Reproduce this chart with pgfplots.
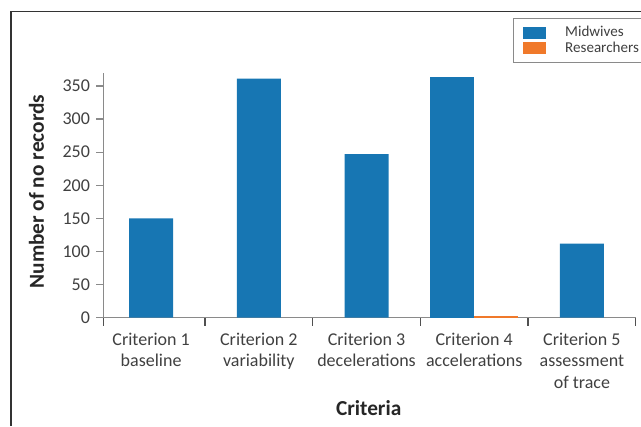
\documentclass[border=0pt]{standalone}
\usepackage{fontspec}
\setmainfont{Carlito}
\usepackage{pgfplots}
\pgfplotsset{compat=1.18}
\definecolor{mblue}{HTML}{1776B3}
\definecolor{rorange}{HTML}{F0792A}
\definecolor{txt}{HTML}{404040}
\definecolor{labcol}{HTML}{262626}
\definecolor{axgray}{HTML}{8A8A8A}
\definecolor{tickdark}{HTML}{505050}
\definecolor{framecol}{HTML}{333333}
\begin{document}
\begin{tikzpicture}[x=1pt,y=1pt]
\useasboundingbox (0,0) rectangle (480.75,319.5);
\draw[line width=0.8pt, framecol] (8.25,0) -- (8.25,310.9) -- (481,310.9);
\begin{axis}[
  at={(77.8pt,81.2pt)}, anchor=south west,
  scale only axis, width=399pt, height=183.75pt,
  xmin=-0.44, xmax=4.5, ymin=0, ymax=370,
  axis x line*=bottom, axis y line*=left,
  axis line style={-, axgray, line width=1pt},
  tick align=outside,
  major tick length=5.8pt, minor tick length=6pt,
  tick style={axgray, line width=1pt},
  every major x tick/.append style={draw=none},
  every minor x tick/.append style={tickdark},
  xtick={0,1,2,3,4},
  xticklabels={{Criterion 1\\baseline},{Criterion 2\\variability},{Criterion 3\\decelerations},{Criterion 4\\accelerations},{Criterion 5\\assessment\\of trace}},
  minor xtick={-0.44,0.5,1.5,2.5,3.5,4.5},
  ytick={0,50,...,350},
  /pgf/number format/assume math mode=true,
  xticklabel style={align=center, font=\fontsize{13.5}{16.3}\selectfont, text=txt, yshift=-2pt},
  yticklabel style={font=\fontsize{13.5}{16.3}\selectfont, text=txt, xshift=-1pt},
  ylabel={Number of no records},
  ylabel style={font=\fontsize{16}{19}\selectfont\bfseries, text=labcol, at={(axis description cs:-0.1263,0.515)}, anchor=center},
  xlabel={Criteria},
  xlabel style={font=\fontsize{16}{19}\selectfont\bfseries, text=labcol, at={(axis description cs:0.498,-0.368)}, anchor=center},
  legend image code/.code={\path (-7.3pt,0pt); \fill[#1] (0pt,-4.6pt) rectangle (17.25pt,4.6pt);},
  legend style={at={(axis description cs:1.012,1.222)}, anchor=north east,
    draw=axgray, line width=0.8pt, fill=white,
    inner xsep=0pt, inner ysep=4.8pt, row sep=0pt,
    font=\fontsize{11.3}{12}\selectfont, text=txt,
    nodes={text height=8pt, text depth=2.3pt, inner ysep=0.6pt},
    /tikz/every odd column/.append style={column sep=12.5pt}},
  legend cell align=left,
]
\addplot[ybar, bar width=33pt, bar shift=0pt, fill=mblue, draw=none] coordinates {(0,150) (1,361) (2,247) (4,112)};
\addplot[ybar, bar width=33pt, bar shift=-16.5pt, fill=mblue, draw=none, forget plot] coordinates {(3,363)};
\addplot[ybar, bar width=33pt, bar shift=16.5pt, fill=rorange, draw=none] coordinates {(3,2)};
\legend{Midwives, Researchers}
\end{axis}
\end{tikzpicture}
\end{document}
